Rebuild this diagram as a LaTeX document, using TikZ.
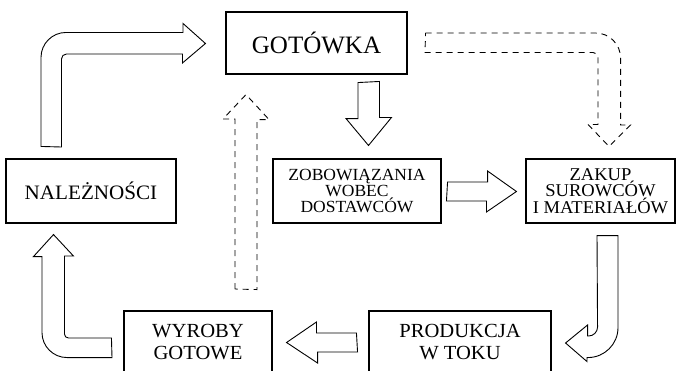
\documentclass[tikz,border=0pt]{standalone}
\usepackage{fontspec}
\setmainfont{Liberation Serif}
\newfontfamily\lblfont[FakeStretch=1.03]{Liberation Serif}
\begin{document}
\begin{tikzpicture}[x=1pt,y=-1pt,
  box/.style={draw, line width=1.1pt, inner sep=0pt, align=center},
  blk/.style={draw, line width=0.9pt, line join=miter},
  dblk/.style={blk, dash pattern=on 6pt off 5pt}]
\useasboundingbox (0,0) rectangle (676,370);
\clip (0,0) rectangle (676,370);

% boxes
\node[box, minimum width=181pt, minimum height=62pt, font=\fontsize{25}{28}\selectfont] (got) at (316.5,43) {GOTÓWKA};
\node[box, minimum width=170pt, minimum height=64pt, font=\lblfont\fontsize{20.5}{22}\selectfont] (nal) at (91,191) {NALEŻNOŚCI};
\node[box, minimum width=168pt, minimum height=64pt, font=\lblfont\fontsize{17}{16}\selectfont] (zob) at (357,191) {ZOBOWIĄZANIA\\WOBEC\\DOSTAWCÓW};
\node[box, minimum width=149pt, minimum height=64pt, font=\lblfont\fontsize{18}{15}\selectfont] (zak) at (600.5,191) {ZAKUP\\SUROWCÓW\\I MATERIAŁÓW};
\node[box, minimum width=148pt, minimum height=62pt, font=\lblfont\fontsize{20}{22.5}\selectfont] (wyr) at (198,342) {WYROBY\\GOTOWE};
\node[box, minimum width=182pt, minimum height=62pt, font=\lblfont\fontsize{20}{22.5}\selectfont] (pro) at (460,342) {PRODUKCJA\\W TOKU};

% arrow end points
\coordinate (a1s) at ([xshift=-39.5pt,yshift=12pt]nal.north);
\coordinate (a1t) at ([xshift=-20pt,yshift=-0.5pt]got.west);
\coordinate (a2s) at ([xshift=52pt,yshift=-8pt]got.south);
\coordinate (a2t) at ([xshift=11.5pt,yshift=13pt]zob.north);
\coordinate (a3s) at ([xshift=6pt,yshift=-0.5pt]zob.east);
\coordinate (a3t) at ([xshift=-9pt,yshift=-0.5pt]zak.west);
\coordinate (a4s) at ([xshift=7pt,yshift=-12pt]zak.south);
\coordinate (a4t) at ([xshift=14pt,yshift=-1pt]pro.east);
\coordinate (a5s) at ([xshift=-12pt,yshift=-0.5pt]pro.west);
\coordinate (a5t) at ([xshift=14pt,yshift=-0.5pt]wyr.east);
\coordinate (a6s) at ([xshift=-12pt,yshift=-5.5pt]wyr.west);
\coordinate (a6t) at ([xshift=-37.5pt,yshift=-11pt]nal.south);
\coordinate (d1s) at (246,289);
\coordinate (d1t) at ([xshift=-70.5pt,yshift=-20pt]got.south);
\coordinate (d2s) at ([xshift=18pt]got.east);
\coordinate (d2t) at ([xshift=8.5pt,yshift=12pt]zak.north);

% NALEŻNOŚCI -> GOTÓWKA
\draw[blk] (a1s) ++(-10.5,0) -- ++(0,-89)
  arc[start angle=180,end angle=270,radius=25] -- ++(117,0) -- ++(0,-9)
  -- (a1t) -- ++(-23,19.5) -- ++(0,-9) -- ++(-116,0)
  arc[start angle=270,end angle=180,radius=5] -- ++(0,88) -- cycle;

% GOTÓWKA -> ZOBOWIĄZANIA
\draw[blk] (a2s) ++(-10.5,0) -- ++(0,36) -- ++(-12,0) -- (a2t)
  -- ++(23,-28) -- ++(-12,0) -- ++(0,-36) -- cycle;

% ZOBOWIĄZANIA -> ZAKUP
\draw[blk] (a3s) ++(0,-9.5) -- ++(40,0) -- ++(0,-11) -- (a3t)
  -- ++(-30,20.5) -- ++(0,-11) -- ++(-40,0) -- cycle;

% ZAKUP -> PRODUKCJA
\draw[blk] (a4s) ++(-10.5,0) -- ++(21,0) -- ++(0,92)
  arc[start angle=0,end angle=90,radius=30] -- ++(-1,0) -- ++(0,4)
  -- (a4t) -- ++(22,-18) -- ++(0,11) -- ++(1,0)
  arc[start angle=90,end angle=0,radius=9] -- cycle;

% PRODUKCJA -> WYROBY
\draw[blk] (a5s) ++(0,-9.5) -- ++(-40,0) -- ++(0,-11) -- (a5t)
  -- ++(31,20.5) -- ++(0,-11) -- ++(40,0) -- cycle;

% WYROBY -> NALEŻNOŚCI
\draw[blk] (a6s) ++(0,-9.5) -- ++(-43,0)
  arc[start angle=90,end angle=180,radius=4] -- ++(0,-78) -- ++(9,0)
  -- (a6t) -- ++(-20,22) -- ++(8.5,0) -- ++(0,76)
  arc[start angle=180,end angle=90,radius=25] -- ++(45,0) -- cycle;

% dashed flow up to GOTÓWKA
\draw[dblk] (d1s) ++(-11,0) -- ++(0,-170) -- ++(-12,0) -- (d1t)
  -- ++(23,25) -- ++(-12,0) -- ++(0,170) -- cycle;

% dashed flow GOTÓWKA -> ZAKUP
\draw[dblk] (d2s) ++(0,-10) -- ++(170,0)
  arc[start angle=270,end angle=360,radius=25] -- ++(0,67) -- ++(10,0)
  -- (d2t) -- ++(-21,-22) -- ++(10,0) -- ++(0,-67)
  arc[start angle=0,end angle=-90,radius=5] -- ++(-168,0) -- cycle;
\end{tikzpicture}
\end{document}
